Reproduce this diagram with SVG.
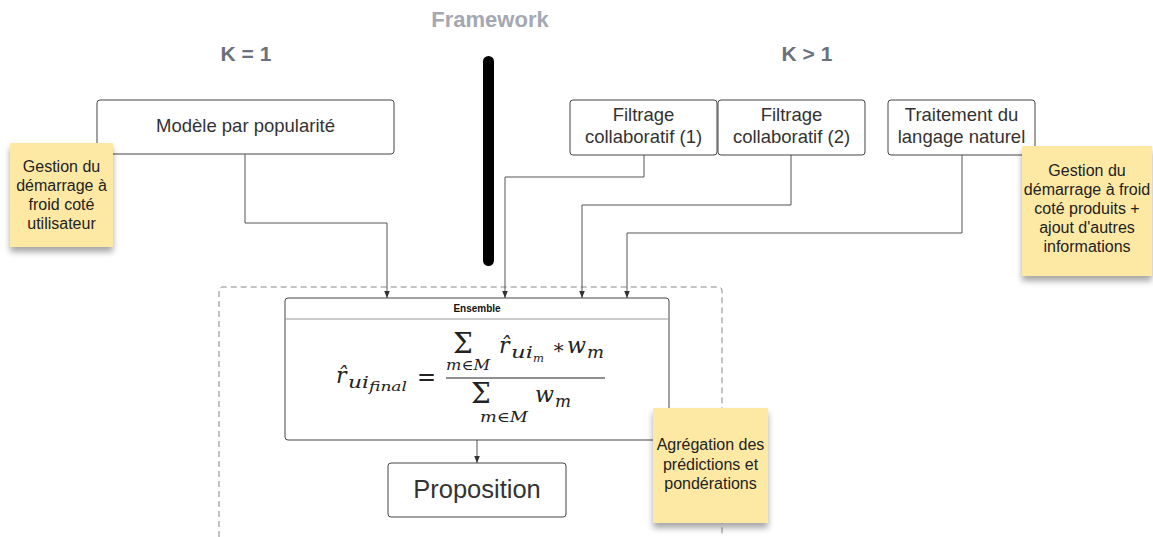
<svg xmlns="http://www.w3.org/2000/svg" width="1153" height="537" viewBox="0 0 1153 537">
<style>
.node{fill:#fff;stroke:#444;stroke-width:1}
.lbl{font-family:"Liberation Sans",Arial,sans-serif;font-size:18.5px;fill:#333;text-anchor:middle}
.sticky{fill:#fee9a4}
.stxt{font-family:"Liberation Sans",Arial,sans-serif;font-size:16px;fill:#222;text-anchor:middle}
.hd{font-family:"Liberation Sans",Arial,sans-serif;font-weight:bold;text-anchor:middle}
.conn{fill:none;stroke:#555;stroke-width:1}
.m{font-family:"DejaVu Serif","Liberation Serif",serif;font-style:italic;fill:#222}
.mu{font-family:"DejaVu Serif","Liberation Serif",serif;fill:#222}
</style>
<defs>
<marker id="arr" viewBox="0 0 10 10" refX="10" refY="5" markerWidth="7" markerHeight="7" orient="auto" markerUnits="userSpaceOnUse">
<path d="M0,1 L10,5 L0,9 z" fill="#333"/>
</marker>
<filter id="sh" x="-20%" y="-20%" width="140%" height="150%">
<feGaussianBlur in="SourceAlpha" stdDeviation="3"/>
<feOffset dx="0" dy="5" result="b"/>
<feComponentTransfer><feFuncA type="linear" slope="0.35"/></feComponentTransfer>
<feMerge><feMergeNode/><feMergeNode in="SourceGraphic"/></feMerge>
</filter>
</defs>
<rect width="1153" height="537" fill="#fff"/>

<g id="headings">
<text class="hd" x="490" y="27" font-size="22" fill="#a3a8b2">Framework</text>
<text class="hd" x="246" y="61" font-size="21" fill="#6b717c">K = 1</text>
<text class="hd" x="807" y="61" font-size="21" fill="#6b717c">K &gt; 1</text>
</g>

<g id="separator">
<rect x="483" y="56" width="11" height="210" rx="5.5" fill="#000"/>
</g>

<g id="container">
<path d="M219,537 L219,291 Q219,287 223,287 L718,287 Q722,287 722,291 L722,537" fill="none" stroke="#888" stroke-width="1" stroke-dasharray="6,4"/>
</g>

<g id="connectors">
<path class="conn" d="M245,154 V223 H387 V298" marker-end="url(#arr)"/>
<path class="conn" d="M644,155 V177 H505 V298" marker-end="url(#arr)"/>
<path class="conn" d="M791,155 V205 H582 V298" marker-end="url(#arr)"/>
<path class="conn" d="M962,155 V233 H627 V298" marker-end="url(#arr)"/>
<path class="conn" d="M477,440 V463" marker-end="url(#arr)"/>
</g>

<g id="node-popularite">
<rect class="node" x="97" y="100" width="297" height="54" rx="3"/>
<text class="lbl" x="245.5" y="132">Modèle par popularité</text>
</g>
<g id="node-filtrage1">
<rect class="node" x="570" y="100" width="147" height="55" rx="3"/>
<text class="lbl" x="643.5" y="121">Filtrage</text>
<text class="lbl" x="643.5" y="143">collaboratif (1)</text>
</g>
<g id="node-filtrage2">
<rect class="node" x="718" y="100" width="147" height="55" rx="3"/>
<text class="lbl" x="791.5" y="121">Filtrage</text>
<text class="lbl" x="791.5" y="143">collaboratif (2)</text>
</g>
<g id="node-nlp">
<rect class="node" x="888" y="100" width="147" height="55" rx="3"/>
<text class="lbl" x="961.5" y="121">Traitement du</text>
<text class="lbl" x="961.5" y="143">langage naturel</text>
</g>

<g id="node-ensemble">
<rect class="node" x="285" y="298" width="384" height="142" rx="3"/>
<line x1="285" y1="319" x2="669" y2="319" stroke="#999" stroke-width="1"/>
<text x="477" y="312" font-family="Liberation Sans,Arial,sans-serif" font-size="10" font-weight="bold" fill="#111" text-anchor="middle">Ensemble</text>
<!-- left side -->
<text class="m" x="336" y="383" font-size="22">r̂</text>
<text class="m" x="348" y="388" font-size="16" textLength="21" lengthAdjust="spacingAndGlyphs">ui</text>
<text class="m" x="369" y="391" font-size="12" textLength="38" lengthAdjust="spacingAndGlyphs">final</text>
<text class="mu" x="417" y="385" font-size="24" textLength="19" lengthAdjust="spacingAndGlyphs">=</text>
<!-- numerator -->
<text class="mu" x="463" y="353" font-size="28" text-anchor="middle">Σ</text>
<text class="m" x="446" y="370" font-size="14" textLength="44" lengthAdjust="spacingAndGlyphs">m∈M</text>
<text class="m" x="499" y="353" font-size="22">r̂</text>
<text class="m" x="511" y="358" font-size="16" textLength="22" lengthAdjust="spacingAndGlyphs">ui</text>
<text class="m" x="533" y="362" font-size="11" textLength="11" lengthAdjust="spacingAndGlyphs">m</text>
<text class="mu" x="552" y="354" font-size="20">∗</text>
<text class="m" x="567" y="353" font-size="22" textLength="19" lengthAdjust="spacingAndGlyphs">w</text>
<text class="m" x="587" y="358" font-size="16" textLength="17" lengthAdjust="spacingAndGlyphs">m</text>
<line x1="446" y1="378" x2="605" y2="378" stroke="#222" stroke-width="1.2"/>
<!-- denominator -->
<text class="mu" x="481" y="403" font-size="28" text-anchor="middle">Σ</text>
<text class="m" x="535" y="402" font-size="22" textLength="19" lengthAdjust="spacingAndGlyphs">w</text>
<text class="m" x="555" y="407" font-size="16" textLength="16" lengthAdjust="spacingAndGlyphs">m</text>
<text class="m" x="480" y="422" font-size="14" textLength="48" lengthAdjust="spacingAndGlyphs">m∈M</text>
</g>

<g id="node-proposition">
<rect class="node" x="388" y="463" width="178" height="54" rx="3"/>
<text class="lbl" x="477" y="498" style="font-size:25.5px">Proposition</text>
</g>

<g id="sticky-user">
<rect class="sticky" x="10" y="143" width="103" height="104" filter="url(#sh)"/>
<text class="stxt" x="61.5" y="172">Gestion du</text>
<text class="stxt" x="61.5" y="191">démarrage à</text>
<text class="stxt" x="61.5" y="210">froid coté</text>
<text class="stxt" x="61.5" y="229">utilisateur</text>
</g>

<g id="sticky-produits">
<rect class="sticky" x="1022" y="146" width="130" height="130" filter="url(#sh)"/>
<text class="stxt" x="1087" y="176">Gestion du</text>
<text class="stxt" x="1087" y="195">démarrage à froid</text>
<text class="stxt" x="1087" y="214">coté produits +</text>
<text class="stxt" x="1087" y="233">ajout d'autres</text>
<text class="stxt" x="1087" y="252">informations</text>
</g>

<g id="sticky-agregation">
<rect class="sticky" x="653" y="408" width="115" height="115" filter="url(#sh)"/>
<text class="stxt" x="710.5" y="450">Agrégation des</text>
<text class="stxt" x="710.5" y="470">prédictions et</text>
<text class="stxt" x="710.5" y="489">pondérations</text>
</g>
</svg>
